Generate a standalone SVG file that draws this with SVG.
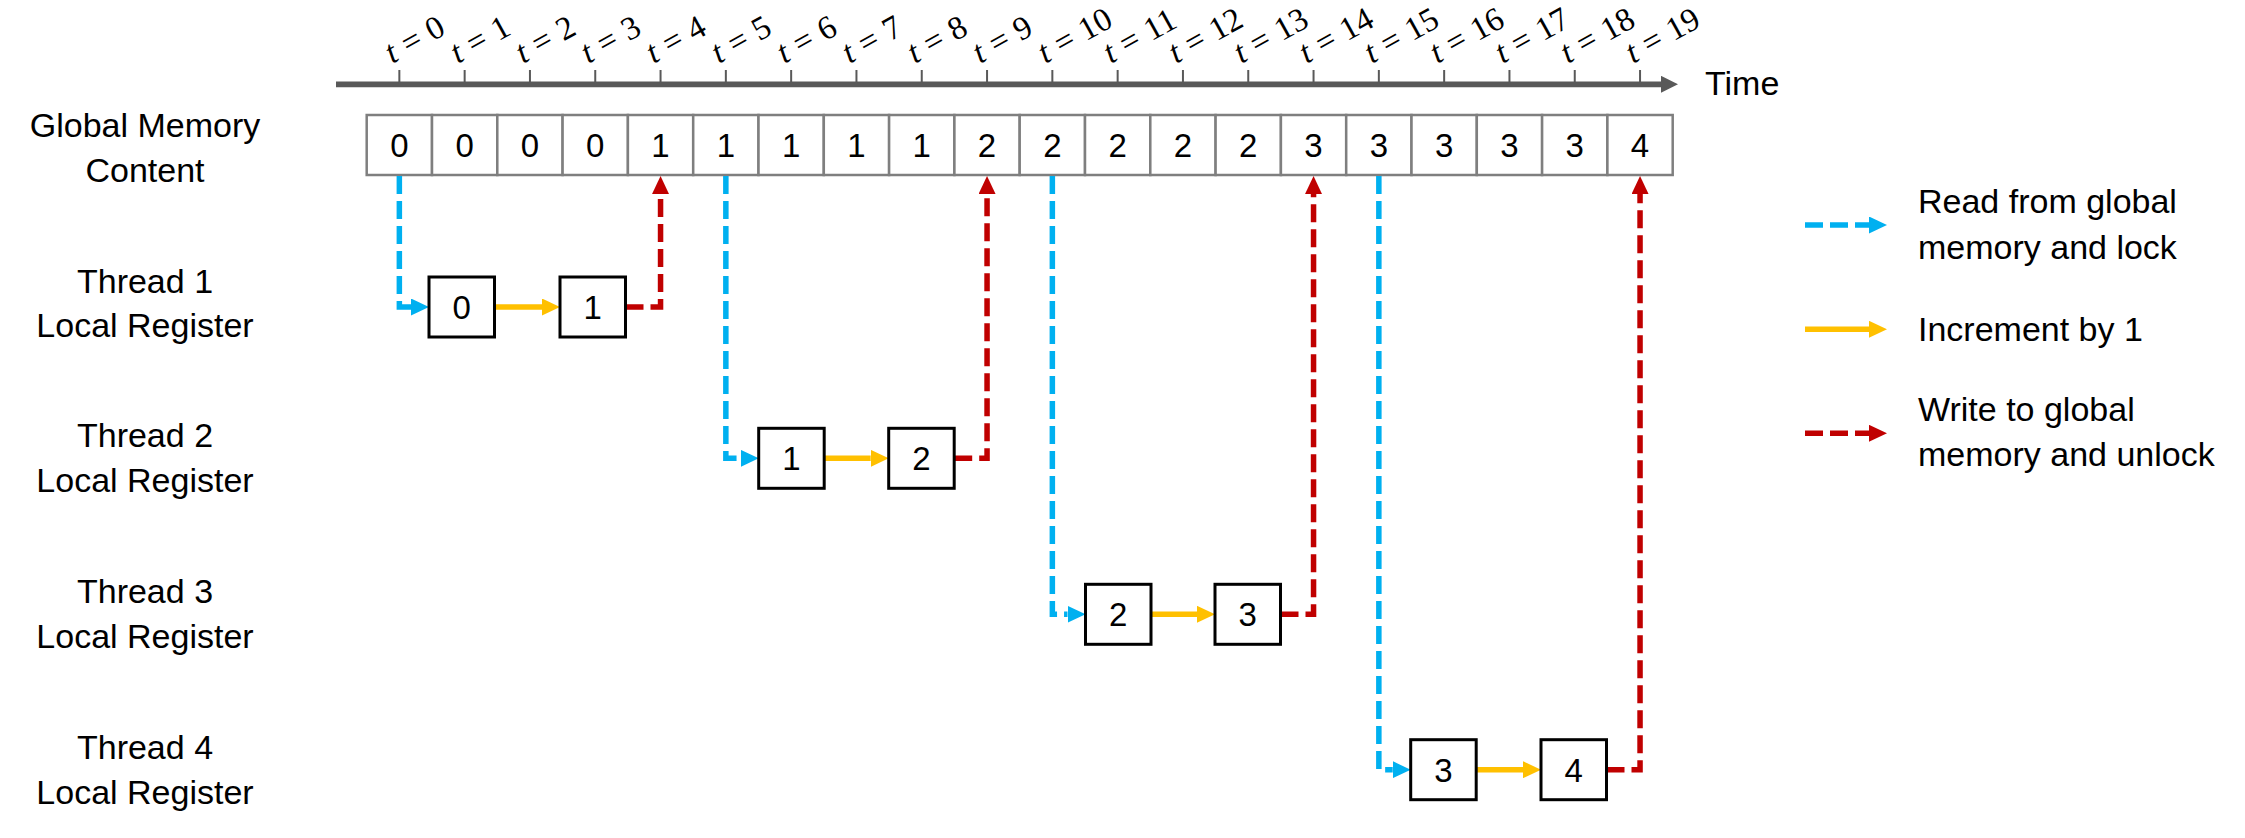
<svg xmlns="http://www.w3.org/2000/svg" width="2245" height="838" viewBox="0 0 2245 838">
<style>
text{font-family:"Liberation Sans",Arial,sans-serif;fill:#000}
.lbl{font-size:34px;text-anchor:middle}
.leg{font-size:34px}
.cell{fill:#fff;stroke:#7F7F7F;stroke-width:2.5}
.box{fill:#fff;stroke:#000;stroke-width:3}
.num{font-size:33px;text-anchor:middle}
.tick{stroke:#595959;stroke-width:2}
.tl{font-family:"Liberation Serif","Times New Roman",serif;font-size:33px;word-spacing:1px}
.tl tspan.i{font-style:italic}
.rd{fill:none;stroke:#00B0F0;stroke-width:5.5;stroke-dasharray:18 7;marker-end:url(#mb)}
.inc{fill:none;stroke:#FFC000;stroke-width:5.5;marker-end:url(#my)}
.wr{fill:none;stroke:#C00000;stroke-width:5.5;stroke-dasharray:18 7;marker-end:url(#mr)}
</style>
<defs>
<marker id="mb" markerUnits="userSpaceOnUse" markerWidth="18" markerHeight="17" viewBox="0 0 18 17" refX="0" refY="8.5" orient="auto"><path d="M0,0L18,8.5L0,17z" fill="#00B0F0"/></marker>
<marker id="my" markerUnits="userSpaceOnUse" markerWidth="18" markerHeight="17" viewBox="0 0 18 17" refX="0" refY="8.5" orient="auto"><path d="M0,0L18,8.5L0,17z" fill="#FFC000"/></marker>
<marker id="mr" markerUnits="userSpaceOnUse" markerWidth="18" markerHeight="17" viewBox="0 0 18 17" refX="0" refY="8.5" orient="auto"><path d="M0,0L18,8.5L0,17z" fill="#C00000"/></marker>
<marker id="mg" markerUnits="userSpaceOnUse" markerWidth="17" markerHeight="17" viewBox="0 0 17 17" refX="0" refY="8.5" orient="auto"><path d="M0,0L17,8.5L0,17z" fill="#595959"/></marker>
</defs>

<g id="time-axis">
<path d="M336,84.3H1661" stroke="#595959" stroke-width="5.7" fill="none" marker-end="url(#mg)"/>
<line class="tick" x1="399.35" y1="70" x2="399.35" y2="84"/>
<line class="tick" x1="464.65" y1="70" x2="464.65" y2="84"/>
<line class="tick" x1="529.95" y1="70" x2="529.95" y2="84"/>
<line class="tick" x1="595.25" y1="70" x2="595.25" y2="84"/>
<line class="tick" x1="660.55" y1="70" x2="660.55" y2="84"/>
<line class="tick" x1="725.85" y1="70" x2="725.85" y2="84"/>
<line class="tick" x1="791.15" y1="70" x2="791.15" y2="84"/>
<line class="tick" x1="856.45" y1="70" x2="856.45" y2="84"/>
<line class="tick" x1="921.75" y1="70" x2="921.75" y2="84"/>
<line class="tick" x1="987.05" y1="70" x2="987.05" y2="84"/>
<line class="tick" x1="1052.35" y1="70" x2="1052.35" y2="84"/>
<line class="tick" x1="1117.65" y1="70" x2="1117.65" y2="84"/>
<line class="tick" x1="1182.95" y1="70" x2="1182.95" y2="84"/>
<line class="tick" x1="1248.25" y1="70" x2="1248.25" y2="84"/>
<line class="tick" x1="1313.55" y1="70" x2="1313.55" y2="84"/>
<line class="tick" x1="1378.85" y1="70" x2="1378.85" y2="84"/>
<line class="tick" x1="1444.15" y1="70" x2="1444.15" y2="84"/>
<line class="tick" x1="1509.45" y1="70" x2="1509.45" y2="84"/>
<line class="tick" x1="1574.75" y1="70" x2="1574.75" y2="84"/>
<line class="tick" x1="1640.05" y1="70" x2="1640.05" y2="84"/>
<text class="tl" transform="translate(392.35,64) rotate(-29)"><tspan class="i">t</tspan> = 0</text>
<text class="tl" transform="translate(457.65,64) rotate(-29)"><tspan class="i">t</tspan> = 1</text>
<text class="tl" transform="translate(522.95,64) rotate(-29)"><tspan class="i">t</tspan> = 2</text>
<text class="tl" transform="translate(588.25,64) rotate(-29)"><tspan class="i">t</tspan> = 3</text>
<text class="tl" transform="translate(653.55,64) rotate(-29)"><tspan class="i">t</tspan> = 4</text>
<text class="tl" transform="translate(718.85,64) rotate(-29)"><tspan class="i">t</tspan> = 5</text>
<text class="tl" transform="translate(784.15,64) rotate(-29)"><tspan class="i">t</tspan> = 6</text>
<text class="tl" transform="translate(849.45,64) rotate(-29)"><tspan class="i">t</tspan> = 7</text>
<text class="tl" transform="translate(914.75,64) rotate(-29)"><tspan class="i">t</tspan> = 8</text>
<text class="tl" transform="translate(980.05,64) rotate(-29)"><tspan class="i">t</tspan> = 9</text>
<text class="tl" transform="translate(1045.35,64) rotate(-29)"><tspan class="i">t</tspan> = 10</text>
<text class="tl" transform="translate(1110.65,64) rotate(-29)"><tspan class="i">t</tspan> = 11</text>
<text class="tl" transform="translate(1175.95,64) rotate(-29)"><tspan class="i">t</tspan> = 12</text>
<text class="tl" transform="translate(1241.25,64) rotate(-29)"><tspan class="i">t</tspan> = 13</text>
<text class="tl" transform="translate(1306.55,64) rotate(-29)"><tspan class="i">t</tspan> = 14</text>
<text class="tl" transform="translate(1371.85,64) rotate(-29)"><tspan class="i">t</tspan> = 15</text>
<text class="tl" transform="translate(1437.15,64) rotate(-29)"><tspan class="i">t</tspan> = 16</text>
<text class="tl" transform="translate(1502.45,64) rotate(-29)"><tspan class="i">t</tspan> = 17</text>
<text class="tl" transform="translate(1567.75,64) rotate(-29)"><tspan class="i">t</tspan> = 18</text>
<text class="tl" transform="translate(1633.05,64) rotate(-29)"><tspan class="i">t</tspan> = 19</text>
<text class="leg" x="1705" y="95">Time</text>
</g>

<g id="row-labels">
<text class="lbl" x="145" y="136.7">Global Memory</text>
<text class="lbl" x="145" y="181.7">Content</text>
<text class="lbl" x="145" y="292.7">Thread 1</text>
<text class="lbl" x="145" y="336.7">Local Register</text>
<text class="lbl" x="145" y="447.3">Thread 2</text>
<text class="lbl" x="145" y="491.7">Local Register</text>
<text class="lbl" x="145" y="603.3">Thread 3</text>
<text class="lbl" x="145" y="648.3">Local Register</text>
<text class="lbl" x="145" y="759.3">Thread 4</text>
<text class="lbl" x="145" y="804">Local Register</text>
</g>

<g id="global-memory">
<g id="m0"><rect class="cell" x="366.7" y="115" width="65.3" height="60"/><text class="num" x="399.35" y="156.8">0</text></g>
<g id="m1"><rect class="cell" x="432" y="115" width="65.3" height="60"/><text class="num" x="464.65" y="156.8">0</text></g>
<g id="m2"><rect class="cell" x="497.3" y="115" width="65.3" height="60"/><text class="num" x="529.95" y="156.8">0</text></g>
<g id="m3"><rect class="cell" x="562.6" y="115" width="65.3" height="60"/><text class="num" x="595.25" y="156.8">0</text></g>
<g id="m4"><rect class="cell" x="627.9" y="115" width="65.3" height="60"/><text class="num" x="660.55" y="156.8">1</text></g>
<g id="m5"><rect class="cell" x="693.2" y="115" width="65.3" height="60"/><text class="num" x="725.85" y="156.8">1</text></g>
<g id="m6"><rect class="cell" x="758.5" y="115" width="65.3" height="60"/><text class="num" x="791.15" y="156.8">1</text></g>
<g id="m7"><rect class="cell" x="823.8" y="115" width="65.3" height="60"/><text class="num" x="856.45" y="156.8">1</text></g>
<g id="m8"><rect class="cell" x="889.1" y="115" width="65.3" height="60"/><text class="num" x="921.75" y="156.8">1</text></g>
<g id="m9"><rect class="cell" x="954.4" y="115" width="65.3" height="60"/><text class="num" x="987.05" y="156.8">2</text></g>
<g id="m10"><rect class="cell" x="1019.7" y="115" width="65.3" height="60"/><text class="num" x="1052.35" y="156.8">2</text></g>
<g id="m11"><rect class="cell" x="1085" y="115" width="65.3" height="60"/><text class="num" x="1117.65" y="156.8">2</text></g>
<g id="m12"><rect class="cell" x="1150.3" y="115" width="65.3" height="60"/><text class="num" x="1182.95" y="156.8">2</text></g>
<g id="m13"><rect class="cell" x="1215.6" y="115" width="65.3" height="60"/><text class="num" x="1248.25" y="156.8">2</text></g>
<g id="m14"><rect class="cell" x="1280.9" y="115" width="65.3" height="60"/><text class="num" x="1313.55" y="156.8">3</text></g>
<g id="m15"><rect class="cell" x="1346.2" y="115" width="65.3" height="60"/><text class="num" x="1378.85" y="156.8">3</text></g>
<g id="m16"><rect class="cell" x="1411.5" y="115" width="65.3" height="60"/><text class="num" x="1444.15" y="156.8">3</text></g>
<g id="m17"><rect class="cell" x="1476.8" y="115" width="65.3" height="60"/><text class="num" x="1509.45" y="156.8">3</text></g>
<g id="m18"><rect class="cell" x="1542.1" y="115" width="65.3" height="60"/><text class="num" x="1574.75" y="156.8">3</text></g>
<g id="m19"><rect class="cell" x="1607.4" y="115" width="65.3" height="60"/><text class="num" x="1640.05" y="156.8">4</text></g>
</g>

<g id="connectors">
<path class="rd" d="M399.35,176V307H411"/>
<path class="inc" d="M494.5,307H542"/>
<path class="wr" d="M625.5,307H660.55V194"/>
<path class="rd" d="M725.85,176V458.3H740.7"/>
<path class="inc" d="M824.2,458.3H870.7"/>
<path class="wr" d="M954.2,458.3H987.05V194"/>
<path class="rd" d="M1052.35,176V614.3H1067.5"/>
<path class="inc" d="M1151,614.3H1197"/>
<path class="wr" d="M1280.5,614.3H1313.55V194"/>
<path class="rd" d="M1378.85,176V769.7H1392.7"/>
<path class="inc" d="M1476.2,769.7H1523"/>
<path class="wr" d="M1606.5,769.7H1640.05V194"/>
</g>

<g id="thread1">
<g id="t1a"><rect class="box" x="429" y="277" width="65.5" height="60"/><text class="num" x="461.75" y="318.8">0</text></g>
<g id="t1b"><rect class="box" x="560" y="277" width="65.5" height="60"/><text class="num" x="592.75" y="318.8">1</text></g>
</g>
<g id="thread2">
<g id="t2a"><rect class="box" x="758.7" y="428.3" width="65.5" height="60"/><text class="num" x="791.45" y="470.1">1</text></g>
<g id="t2b"><rect class="box" x="888.7" y="428.3" width="65.5" height="60"/><text class="num" x="921.45" y="470.1">2</text></g>
</g>
<g id="thread3">
<g id="t3a"><rect class="box" x="1085.5" y="584.3" width="65.5" height="60"/><text class="num" x="1118.25" y="626.1">2</text></g>
<g id="t3b"><rect class="box" x="1215" y="584.3" width="65.5" height="60"/><text class="num" x="1247.75" y="626.1">3</text></g>
</g>
<g id="thread4">
<g id="t4a"><rect class="box" x="1410.7" y="739.7" width="65.5" height="60"/><text class="num" x="1443.45" y="781.5">3</text></g>
<g id="t4b"><rect class="box" x="1541" y="739.7" width="65.5" height="60"/><text class="num" x="1573.75" y="781.5">4</text></g>
</g>

<g id="legend">
<path class="rd" d="M1805,225H1869"/>
<text class="leg" x="1918" y="213.3">Read from global</text>
<text class="leg" x="1918" y="259.3">memory and lock</text>
<path class="inc" d="M1805,329.3H1869"/>
<text class="leg" x="1918" y="341">Increment by 1</text>
<path class="wr" d="M1805,433.3H1869"/>
<text class="leg" x="1918" y="420.7">Write to global</text>
<text class="leg" x="1918" y="466">memory and unlock</text>
</g>
</svg>
